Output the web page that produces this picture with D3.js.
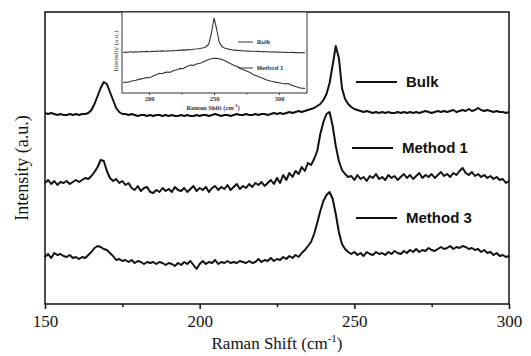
<!DOCTYPE html>
<html lang="en">
<head>
    <meta charset="UTF-8">
    <title>Raman spectra</title>
    <style>
        body { margin: 0; background: #fff; }
        svg { display: block; }
        .serif { font-family: "Liberation Serif", "Times New Roman", serif; }
        .sans { font-family: "Liberation Sans", Arial, sans-serif; }
    </style>
</head>
<body>
<div id="chart"></div>
<script src="https://d3js.org/d3.v7.min.js"></script>
<script>
    // Raman shift grid (cm-1), one point per wavenumber
    const shift = d3.range(150, 301, 1);

    // main spectra, stacked intensities (a.u.)
    const bulk = [
        191,190,191,190,189,190,189,189,190,189, 190,189,190,190,191,194,200,208,216,222,
        220,212,204,196,192,190,190,189,190,189, 188,189,189,188,189,188,189,189,188,189,
        188,189,188,188,189,188,189,188,188,189, 188,189,189,188,189,190,189,188,189,189,
        188,189,190,189,189,190,189,189,190,189, 190,190,189,190,191,190,191,190,191,192,
        191,192,193,192,193,194,195,196,198,200, 204,210,221,239,258,246,216,205,200,197,
        195,194,193,192,193,192,191,192,191,192, 191,192,191,191,192,191,192,191,192,191,
        192,191,192,193,192,191,192,193,192,193, 192,193,194,192,193,194,193,195,193,194,
        196,194,193,194,193,192,193,192,192,191, 192
    ];
    const method1 = [
        121,124,120,123,119,122,121,123,120,122, 124,122,124,126,125,128,132,137,144,143,
        133,126,123,125,121,123,119,121,116,114, 118,113,116,117,112,111,114,112,116,113,
        115,112,117,114,113,116,112,115,118,113, 116,114,117,112,116,118,114,117,115,119,
        114,117,120,115,118,116,120,117,121,119, 122,118,121,124,120,126,121,129,124,131,
        127,133,130,137,133,141,139,145,153,170, 182,190,192,178,158,143,134,130,127,128,
        124,129,125,127,123,128,126,130,125,127, 124,129,126,128,124,127,130,126,129,125,
        128,131,126,129,127,130,126,129,132,128, 130,127,131,129,133,136,131,129,132,128,
        130,127,129,126,128,125,127,124,125,121, 123
    ];
    const method3 = [
        47,50,46,51,49,50,48,47,49,46, 47,45,47,46,49,52,56,58,57,55,
        54,51,48,44,45,43,44,42,44,41, 43,42,40,42,41,42,40,42,41,39,
        41,40,38,41,39,42,40,43,39,35, 40,43,40,42,41,44,40,42,41,43,
        41,42,41,43,42,41,43,41,42,45, 42,44,43,46,43,45,44,47,45,48,
        46,49,47,51,54,58,62,70,81,93, 103,109,112,105,90,72,60,55,52,50,
        52,49,51,48,52,50,49,52,50,51, 49,52,50,53,51,50,53,51,54,52,
        55,52,54,53,56,54,53,55,57,55, 56,58,55,57,56,58,57,55,56,54,
        55,52,54,51,52,49,51,48,49,47, 48
    ];
    const labels = ["Bulk", "Method 1", "Method 3"];

    // inset spectra (wider range, every 2 cm-1)
    const insetShift = d3.range(180, 321, 2);
    const insetBulk = [
        40.5,41,40.8,41.2,40.9,41.3,41,41.4,41.2,41.6, 41.3,41.8,41.5,41.9,41.7,42.1,41.8,42.3,42,42.5,
        42.3,42.8,42.6,43.1,42.9,43.4,43.3,43.8,44,44.3, 44.8,45.3,46.3,49,60,75,64,51,46.5,45,
        44.3,43.6,43.2,42.9,42.6,42.4,42.2,42,41.9,41.7, 41.8,41.5,41.6,41.3,41.4,41.2,41.1,41,41.1,40.8,
        40.9,40.7,40.8,40.6,40.5,40.6,40.4,40.5,40.3,40.4, 40.3
    ];
    const insetMethod1 = [
        10.3,11,10.8,11.8,12.3,12.8,13.6,14.1,14.7,15.4, 15.2,16.3,17.5,18.4,19.7,19.2,20.4,21,20.6,22,
        22.8,23.4,24.6,24.2,25.7,27,28,27.6,28.8,29.5, 30,31.2,32.4,33.5,34.3,34.8,34.6,34.2,33.4,32.5,
        31.2,29.8,28.5,27.2,26.4,24.8,23.4,22.6,21.4,20.2, 18.4,17.6,16.5,15.3,14.6,13.2,12.5,11.8,11.2,10.6,
        10.2,9.8,9.2,9.5,8.9,7.6,6.8,5.9,5.1,4.8, 4.6
    ];
    const insetLabels = ["Bulk", "Method 1"];

    const W = 531, H = 356;
    const m = { left: 45, right: 509, top: 12, bottom: 304 };

    const svg = d3.select("#chart").append("svg")
        .attr("width", W).attr("height", H);

    const x = d3.scaleLinear().domain([150, 300]).range([m.left, m.right]);
    const y = d3.scaleLinear().domain([0, 292]).range([m.bottom, m.top]);

    // spectra
    const line = d3.line().x((d, i) => x(shift[i])).y(d => y(d));
    [bulk, method1, method3].forEach(s => {
        svg.append("path").datum(s)
            .attr("d", line)
            .attr("fill", "none")
            .attr("stroke", "#111")
            .attr("stroke-width", 2)
            .attr("stroke-linejoin", "round");
    });

    // frame
    svg.append("rect")
        .attr("x", m.left).attr("y", m.top)
        .attr("width", m.right - m.left).attr("height", m.bottom - m.top)
        .attr("fill", "none").attr("stroke", "#111").attr("stroke-width", 1.5);

    // x axis
    const xAxis = svg.append("g").attr("transform", `translate(0,${m.bottom})`)
        .call(d3.axisBottom(x).tickValues([150, 200, 250, 300]).tickSize(5).tickPadding(6));
    xAxis.select(".domain").remove();
    xAxis.selectAll("line").attr("stroke", "#111").attr("stroke-width", 1.5);
    xAxis.selectAll("text").attr("class", "serif").attr("font-size", 17).attr("fill", "#111");
    const xMinor = svg.append("g").attr("transform", `translate(0,${m.bottom})`)
        .call(d3.axisBottom(x).tickValues([175, 225, 275]).tickSize(3).tickFormat(""));
    xMinor.select(".domain").remove();
    xMinor.selectAll("line").attr("stroke", "#111").attr("stroke-width", 1.5);

    // axis titles
    const xt = svg.append("text").attr("class", "serif")
        .attr("x", 277).attr("y", 349).attr("text-anchor", "middle")
        .attr("font-size", 17).attr("fill", "#111");
    xt.append("tspan").text("Raman Shift (cm");
    xt.append("tspan").attr("dy", -7).attr("font-size", 11).text("-1");
    xt.append("tspan").attr("dy", 7).text(")");

    svg.append("text").attr("class", "serif")
        .attr("transform", "translate(28,168) rotate(-90)")
        .attr("text-anchor", "middle").attr("font-size", 18).attr("fill", "#111")
        .text("Intensity (a.u.)");

    // legend
    const legY = [82, 148, 218];
    const legX = [356, 352, 356];
    labels.forEach((lab, i) => {
        svg.append("line")
            .attr("x1", legX[i]).attr("x2", legX[i] + 41)
            .attr("y1", legY[i]).attr("y2", legY[i])
            .attr("stroke", "#111").attr("stroke-width", 2);
        svg.append("text").attr("class", "sans")
            .attr("x", legX[i] + 50).attr("y", legY[i] + 5)
            .attr("font-size", 15).attr("font-weight", "bold").attr("fill", "#111")
            .text(lab);
    });

    // inset
    const ix = d3.scaleLinear().domain([179.2, 321.5]).range([122, 307]);
    const iy = d3.scaleLinear().domain([0, 81]).range([93, 12]);

    svg.append("rect")
        .attr("x", 122).attr("y", 12).attr("width", 185).attr("height", 81)
        .attr("fill", "#fff").attr("stroke", "#333").attr("stroke-width", 1);

    const iline = d3.line().x((d, i) => ix(insetShift[i])).y(d => iy(d));
    [insetBulk, insetMethod1].forEach(s => {
        svg.append("path").datum(s)
            .attr("d", iline)
            .attr("fill", "none")
            .attr("stroke", "#333")
            .attr("stroke-width", 1.1);
    });

    const ixAxis = svg.append("g").attr("transform", "translate(0,93)")
        .call(d3.axisBottom(ix).tickValues([200, 250, 300]).tickSize(2).tickPadding(1));
    ixAxis.select(".domain").remove();
    ixAxis.selectAll("line").attr("stroke", "#333");
    ixAxis.selectAll("text").attr("class", "serif").attr("font-size", 6.5)
        .attr("font-weight", "bold").attr("fill", "#333");
    const ixMinor = svg.append("g").attr("transform", "translate(0,93)")
        .call(d3.axisBottom(ix).tickValues([225, 275]).tickSize(1.5).tickFormat(""));
    ixMinor.select(".domain").remove();
    ixMinor.selectAll("line").attr("stroke", "#333");

    const ixt = svg.append("text").attr("class", "serif")
        .attr("x", 213).attr("y", 109.5).attr("text-anchor", "middle")
        .attr("font-size", 6.5).attr("font-weight", "bold").attr("fill", "#333");
    ixt.append("tspan").text("Raman Shift (cm");
    ixt.append("tspan").attr("dy", -2.5).attr("font-size", 4.5).text("-1");
    ixt.append("tspan").attr("dy", 2.5).text(")");

    svg.append("text").attr("class", "serif")
        .attr("transform", "translate(118,51) rotate(-90)")
        .attr("text-anchor", "middle").attr("font-size", 7).attr("fill", "#333")
        .text("Intensity (a.u.)");

    const iLegY = [42, 68];
    insetLabels.forEach((lab, i) => {
        svg.append("line")
            .attr("x1", 238).attr("x2", 253)
            .attr("y1", iLegY[i]).attr("y2", iLegY[i])
            .attr("stroke", "#333").attr("stroke-width", 1);
        svg.append("text").attr("class", "sans")
            .attr("x", 257).attr("y", iLegY[i] + 2)
            .attr("font-size", 6).attr("font-weight", "bold").attr("fill", "#333")
            .text(lab);
    });
</script>
</body>
</html>
